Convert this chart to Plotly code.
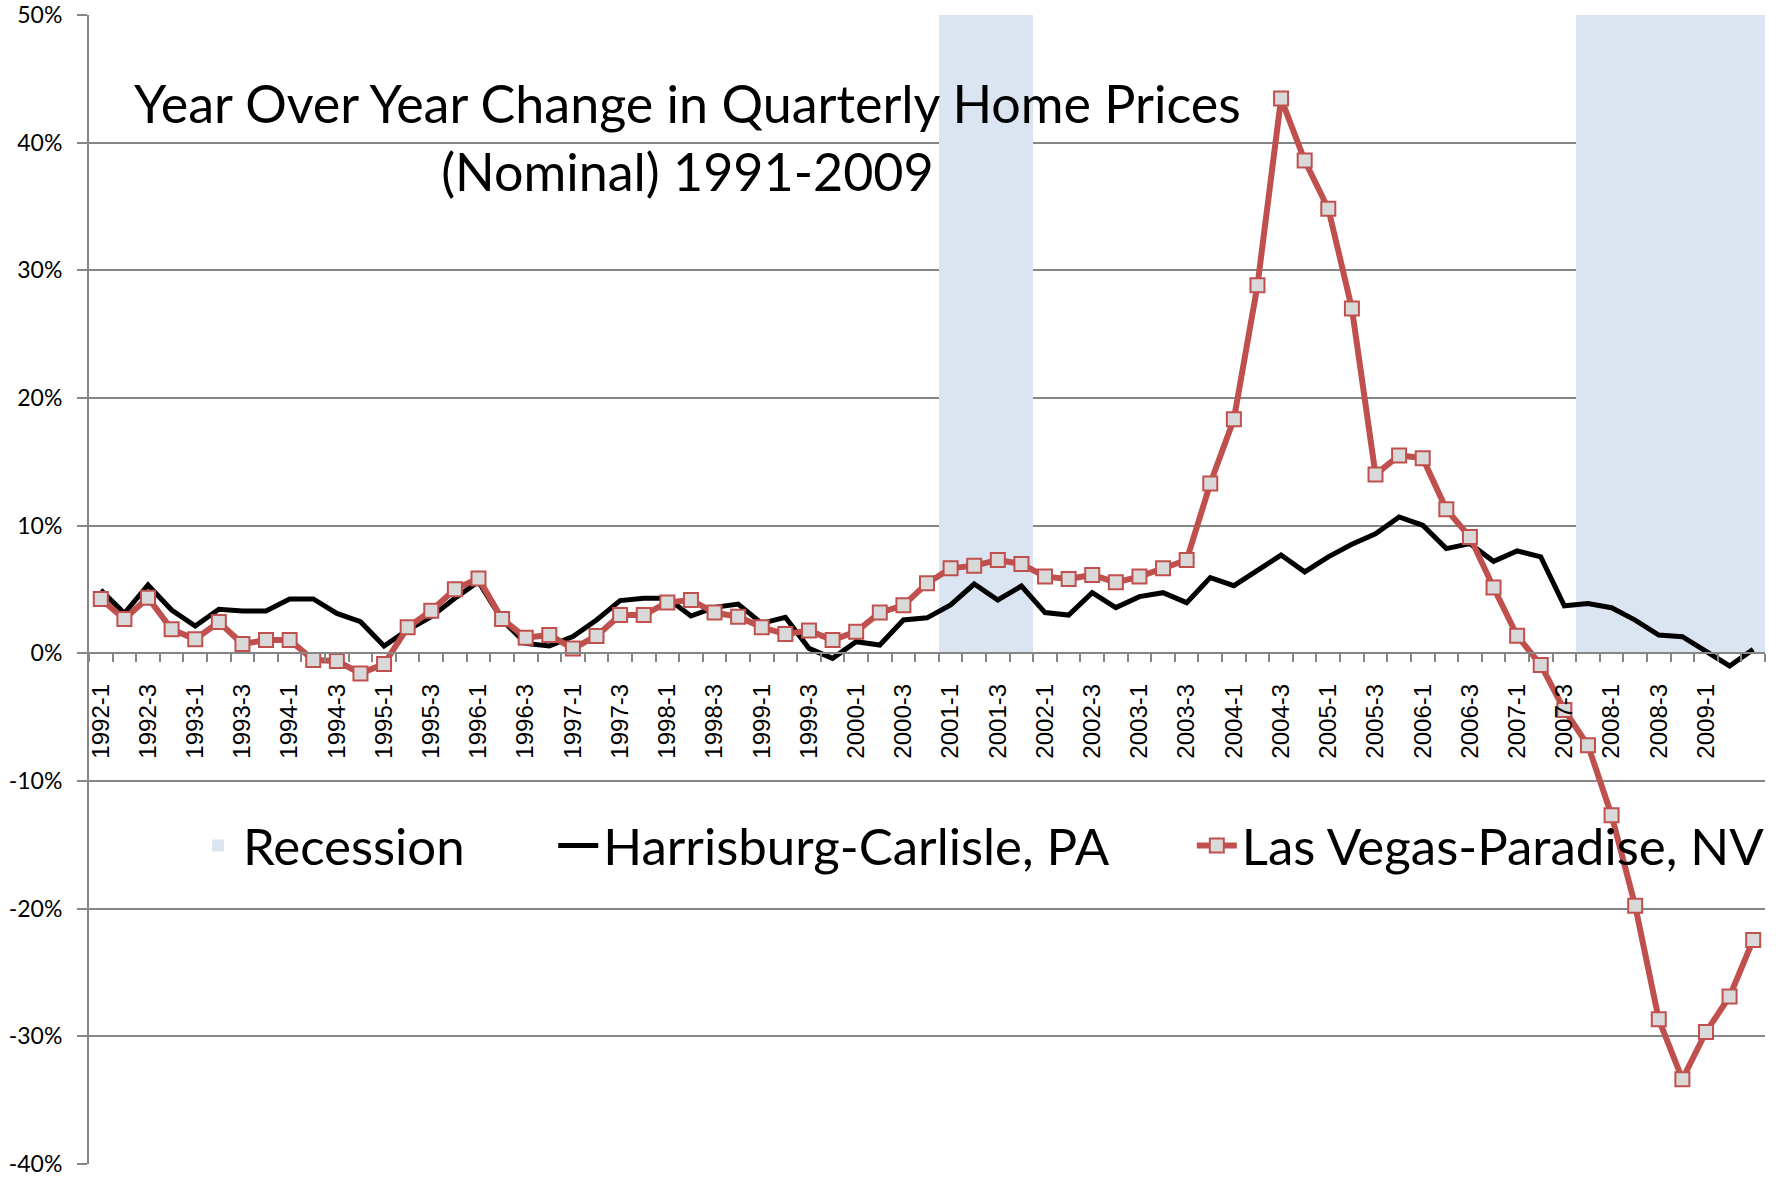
import plotly.graph_objects as go

# ---- data -------------------------------------------------------------
quarters = [f"{y}-{q}" for y in range(1992, 2010) for q in range(1, 5)][:71]

recession_quarters = ["2001-1", "2001-2", "2001-3", "2001-4",
                      "2007-4", "2008-1", "2008-2", "2008-3", "2008-4",
                      "2009-1", "2009-2", "2009-3"]
recession_level = 50

harrisburg = [4.96, 3.13, 5.35, 3.39, 2.14, 3.45, 3.32, 3.32, 4.26, 4.26,
              3.13, 2.48, 0.57, 1.83, 2.87, 4.31, 5.61, 2.61, 0.78, 0.57,
              1.31, 2.61, 4.13, 4.31, 4.31, 2.92, 3.60, 3.86, 2.35, 2.82,
              0.39, -0.39, 0.91, 0.65, 2.61, 2.78, 3.79, 5.43, 4.18, 5.27,
              3.19, 3.00, 4.75, 3.58, 4.44, 4.75, 3.97, 5.93, 5.30, 6.48,
              7.70, 6.38, 7.56, 8.54, 9.36, 10.68, 10.03, 8.20, 8.59, 7.21,
              8.02, 7.55, 3.72, 3.91, 3.57, 2.60, 1.43, 1.30, 0.13, -0.99,
              0.31]

las_vegas = [4.26, 2.69, 4.36, 1.88, 1.10, 2.45, 0.73, 1.04, 1.04, -0.52,
             -0.60, -1.57, -0.84, 2.04, 3.34, 5.01, 5.87, 2.69, 1.23, 1.44,
             0.37, 1.36, 3.00, 3.00, 3.99, 4.18, 3.19, 2.87, 2.04, 1.51,
             1.78, 1.04, 1.70, 3.19, 3.76, 5.48, 6.66, 6.87, 7.31, 7.00,
             6.01, 5.82, 6.14, 5.56, 6.01, 6.66, 7.31, 13.3, 18.34, 28.83,
             43.45, 38.60, 34.83, 27.01, 14.0, 15.5, 15.29, 11.28, 9.11, 5.16,
             1.38, -0.91, -4.43, -7.2, -12.68, -19.77, -28.67, -33.36, -29.66,
             -26.88, -22.45]

# every second quarter is labelled (the final 2009-3 label is not shown)
tick_labels = [q if (i % 2 == 0 and i < 70) else "" for i, q in enumerate(quarters)]
title_lines = ["Year Over Year Change in Quarterly Home Prices",
               "(Nominal) 1991-2009"]
y_ticks = [-40, -30, -20, -10, 0, 10, 20, 30, 40, 50]
y_tick_text = [f"{v}%" for v in y_ticks]

# ---- figure -----------------------------------------------------------
GRID = "#868686"
fig = go.Figure()

fig.add_trace(go.Bar(
    x=recession_quarters, y=[recession_level] * len(recession_quarters),
    name="Recession", marker=dict(color="#DBE5F1", line=dict(width=0)),
    width=1.0, hoverinfo="skip", legend="legend"))

fig.add_trace(go.Scatter(
    x=quarters, y=harrisburg, name="Harrisburg-Carlisle, PA",
    mode="lines", line=dict(color="black", width=5), legend="legend2"))

fig.add_trace(go.Scatter(
    x=quarters, y=las_vegas, name="Las Vegas-Paradise, NV",
    mode="lines+markers",
    line=dict(color="#C0504D", width=6),
    marker=dict(symbol="square", size=14, color="#D9D9D9",
                line=dict(color="#C0504D", width=2)),
    legend="legend3"))

fig.add_annotation(
    text="<br>".join(title_lines), xref="paper", yref="paper",
    x=0.357, y=0.952, xanchor="center", yanchor="top",
    showarrow=False, align="center",
    font=dict(family="Lato", size=52, color="black"))

leg_common = dict(orientation="h", xanchor="left", yanchor="middle",
                  y=0.277, bgcolor="rgba(0,0,0,0)",
                  font=dict(family="Lato", size=51, color="black"),
                  itemwidth=40)

fig.update_layout(
    width=1778, height=1182,
    margin=dict(l=89, r=8, t=15, b=18),
    plot_bgcolor="white", paper_bgcolor="white",
    bargap=0,
    showlegend=True,
    legend=dict(x=0.062, **leg_common),
    legend2=dict(x=0.277, **leg_common),
    legend3=dict(x=0.658, **leg_common),
    xaxis=dict(type="category", categoryorder="array", categoryarray=quarters,
               range=[-0.5, len(quarters) - 0.5], automargin=False,
               anchor="free", position=40 / 90,
               showline=True, linecolor=GRID, linewidth=2,
               showgrid=False, zeroline=False,
               ticks="outside", ticklen=8, tickwidth=2, tickcolor=GRID,
               tickson="boundaries",
               tickmode="array", tickvals=quarters, ticktext=tick_labels,
               tickangle=-90, ticklabelstandoff=20,
               tickfont=dict(family="Liberation Sans", size=24, color="black")),
    yaxis=dict(range=[-40, 50], tickmode="array", tickvals=y_ticks,
               ticktext=y_tick_text, ticklabeloverflow="allow",
               automargin=False,
               showgrid=True, gridcolor=GRID, gridwidth=2,
               zeroline=False, showline=True, linecolor=GRID, linewidth=2,
               ticks="outside", ticklen=10, tickwidth=2, tickcolor=GRID,
               ticklabelstandoff=10,
               tickfont=dict(family="Lato", size=23, color="black")),
)

fig.write_html(
    "out.html",
    config={"displayModeBar": False},
    post_script="document.body.style.margin='0';"
                "document.documentElement.style.overflow='hidden';")
